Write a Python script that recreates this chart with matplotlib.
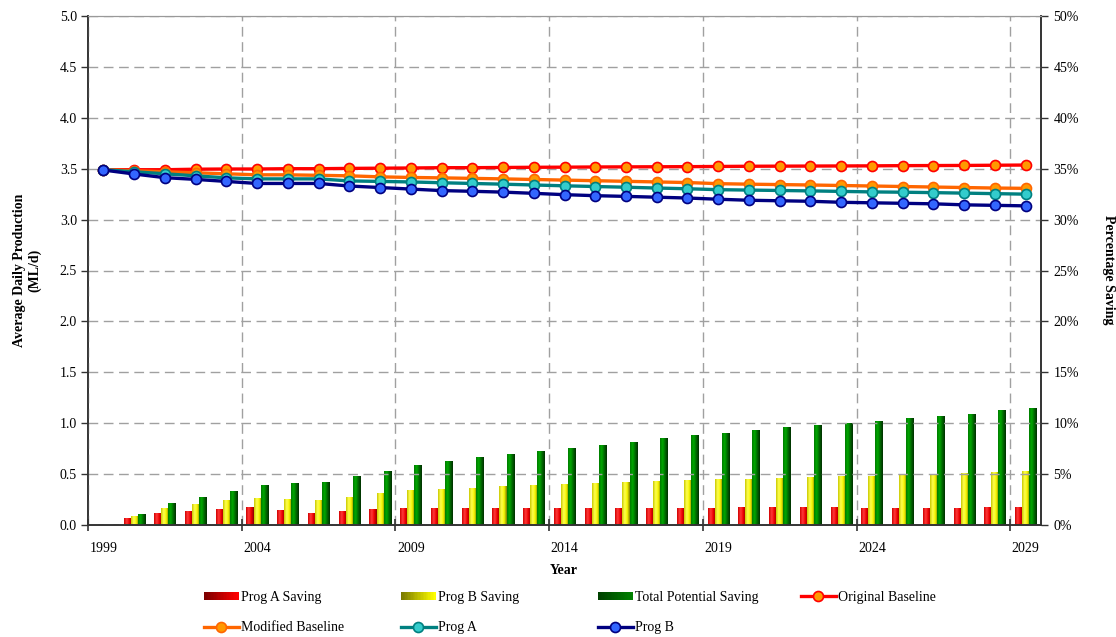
import numpy as np
import matplotlib
matplotlib.use("Agg")
import matplotlib.pyplot as plt
from matplotlib.colors import LinearSegmentedColormap
from matplotlib.patches import Rectangle
from matplotlib.legend_handler import HandlerBase
from matplotlib.ticker import FuncFormatter, MultipleLocator

plt.rcParams['font.family'] = ['Liberation Serif', 'DejaVu Serif']
plt.rcParams['font.size'] = 10

years = list(range(1999, 2030))

# production (ML/d)
orig_baseline = [3.49, 3.49, 3.49, 3.495, 3.497, 3.497, 3.50, 3.50, 3.503, 3.505, 3.507,
                 3.51, 3.51, 3.512, 3.514, 3.515, 3.517, 3.518, 3.519, 3.52, 3.522,
                 3.524, 3.525, 3.526, 3.527, 3.528, 3.53, 3.531, 3.532, 3.534, 3.536]
modified_baseline = [3.49, 3.48, 3.47, 3.46, 3.45, 3.44, 3.44, 3.435, 3.43, 3.42, 3.414,
                     3.41, 3.405, 3.40, 3.394, 3.388, 3.382, 3.376, 3.37, 3.364, 3.353,
                     3.348, 3.344, 3.34, 3.335, 3.33, 3.325, 3.32, 3.315, 3.31, 3.307]
prog_a = [3.49, 3.47, 3.45, 3.43, 3.41, 3.40, 3.40, 3.40, 3.38, 3.375, 3.37,
          3.362, 3.355, 3.348, 3.34, 3.332, 3.325, 3.318, 3.31, 3.303, 3.294,
          3.29, 3.286, 3.282, 3.277, 3.272, 3.269, 3.265, 3.26, 3.255, 3.25]
prog_b = [3.487, 3.448, 3.412, 3.395, 3.375, 3.355, 3.355, 3.355, 3.33, 3.315, 3.30,
          3.285, 3.278, 3.27, 3.258, 3.245, 3.235, 3.228, 3.22, 3.212, 3.20,
          3.19, 3.185, 3.18, 3.17, 3.165, 3.16, 3.155, 3.145, 3.14, 3.135]

# savings (%)
prog_a_saving = [0, 0.6, 1.1, 1.3, 1.5, 1.7, 1.4, 1.1, 1.3, 1.5, 1.6,
                 1.6, 1.6, 1.6, 1.6, 1.6, 1.6, 1.6, 1.6, 1.6, 1.6,
                 1.7, 1.7, 1.7, 1.7, 1.6, 1.6, 1.6, 1.6, 1.7, 1.7]
prog_b_saving = [0, 0.8, 1.6, 2.0, 2.4, 2.65, 2.55, 2.45, 2.75, 3.05, 3.35,
                 3.45, 3.55, 3.75, 3.85, 3.95, 4.05, 4.15, 4.25, 4.35, 4.45,
                 4.5, 4.6, 4.7, 4.8, 4.8, 4.9, 5.0, 5.1, 5.2, 5.3]
total_saving = [0, 1.0, 2.1, 2.75, 3.3, 3.9, 4.1, 4.2, 4.8, 5.3, 5.8,
                6.2, 6.6, 6.9, 7.2, 7.5, 7.85, 8.15, 8.45, 8.75, 8.95,
                9.25, 9.55, 9.75, 10.0, 10.2, 10.5, 10.7, 10.9, 11.2, 11.4]

red_cm = LinearSegmentedColormap.from_list("r", ["#d00000", "#ff3a3a", "#ee0000", "#8a0000"])
yel_cm = LinearSegmentedColormap.from_list("y", ["#c8c800", "#ffff50", "#f5f500", "#7a7a00"])
grn_cm = LinearSegmentedColormap.from_list("g", ["#007a00", "#00a800", "#006800", "#002e00"])
leg_cms = {
    "r": LinearSegmentedColormap.from_list("lr", ["#7a0000", "#ff0000"]),
    "y": LinearSegmentedColormap.from_list("ly", ["#7a7a00", "#ffff00"]),
    "g": LinearSegmentedColormap.from_list("lg", ["#004000", "#008000"]),
}


def shade_bars(ax, bars, cmap):
    # paint each bar with a horizontal gradient
    grad = np.linspace(0, 1, 64).reshape(1, -1)
    for b in bars:
        x, y = b.get_xy()
        w, h = b.get_width(), b.get_height()
        b.set_facecolor('none')
        b.set_edgecolor('none')
        if h <= 0:
            continue
        ax.imshow(grad, cmap=cmap, extent=(x, x + w, y, y + h), aspect='auto',
                  interpolation='bilinear', zorder=2)


class GradHandler(HandlerBase):
    def __init__(self, cmap):
        super().__init__()
        self.cmap = cmap

    def create_artists(self, legend, orig_handle, xdescent, ydescent, width, height, fontsize, trans):
        n = 24
        arts = []
        for i in range(n):
            r = Rectangle((-xdescent + width * i / n, -ydescent + height * 0.1), width / n * 1.1, height * 0.8,
                          facecolor=self.cmap(i / (n - 1)), edgecolor='none', transform=trans)
            arts.append(r)
        return arts


fig = plt.figure(figsize=(11.16, 6.37), dpi=100)
ax = fig.add_axes([88 / 1116, 1 - 525 / 637, (1041 - 88) / 1116, (525 - 16) / 637])
ax2 = ax.twinx()

x = np.arange(len(years))
bw = 0.23

# bars on the percentage axis
b1 = ax2.bar(x - bw, prog_a_saving, bw)
b2 = ax2.bar(x, prog_b_saving, bw)
b3 = ax2.bar(x + bw, total_saving, bw)
shade_bars(ax2, b1, red_cm)
shade_bars(ax2, b2, yel_cm)
shade_bars(ax2, b3, grn_cm)

# lines on the production axis
l1, = ax.plot(x, orig_baseline, color="#ff0000", lw=2.4, marker='o', ms=7.2, mfc="#ff9900", mec="#ff0000", mew=1.2, zorder=5)
l2, = ax.plot(x, modified_baseline, color="#ff6600", lw=2.4, marker='o', ms=7.2, mfc="#ff9900", mec="#ff6600", mew=1.2, zorder=5)
l3, = ax.plot(x, prog_a, color="#008080", lw=2.4, marker='o', ms=7.2, mfc="#33cccc", mec="#008080", mew=1.2, zorder=5)
l4, = ax.plot(x, prog_b, color="#000080", lw=2.4, marker='o', ms=7.2, mfc="#3366ff", mec="#000080", mew=1.2, zorder=5)
ax.set_zorder(ax2.get_zorder() + 1)
ax.patch.set_visible(False)

ax.set_xlim(-0.5, len(years) - 0.5)
ax.set_ylim(0, 5.0)
ax2.set_ylim(0, 50)
ax2.set_xlim(-0.5, len(years) - 0.5)

ax.yaxis.set_major_locator(MultipleLocator(0.5))
ax.yaxis.set_major_formatter(FuncFormatter(lambda v, p: f"{v:.1f}"))
ax2.yaxis.set_major_locator(MultipleLocator(5))
ax2.yaxis.set_major_formatter(FuncFormatter(lambda v, p: f"{v:.0f}%"))

# tick marks between categories, year labels on every fifth category
ax.set_xticks(np.arange(-0.5, len(years), 5))
ax.set_xticklabels([])
ax.set_xticks(x[::5], minor=True)
ax.set_xticklabels([str(y) for y in years[::5]], minor=True)
ax.tick_params(axis='x', which='minor', length=0, pad=12, labelsize=10)
ax.tick_params(axis='x', which='major', direction='inout', length=8, width=1.2, color='#333333')
ax.tick_params(axis='y', direction='out', length=5, width=1, pad=3, labelsize=10, color='#333333')
ax2.tick_params(axis='y', direction='out', length=5, width=1, pad=4, labelsize=10, color='#333333')

ax.grid(True, which='major', color='#a0a0a0', lw=1.0, ls=(0, (7, 4)))
ax.set_axisbelow(True)

for a in (ax, ax2):
    a.spines['top'].set_color('#999999')
    a.spines['left'].set_color('#333333')
    a.spines['right'].set_color('#333333')
    a.spines['bottom'].set_color('#333333')
    a.spines['left'].set_linewidth(1.2)
    a.spines['right'].set_linewidth(1.2)
    a.spines['bottom'].set_linewidth(1.2)

fig.text(27 / 1116, 1 - 270 / 637, "Average Daily Production\n(ML/d)", rotation=90, ha='center', va='center',
         fontweight='bold', fontsize=10, multialignment='center')
fig.text(1108 / 1116, 1 - 270 / 637, "Percentage Saving", rotation=270, ha='center', va='center',
         fontweight='bold', fontsize=10)
fig.text(564 / 1116, 1 - 571 / 637, "Year", ha='center', va='center', fontweight='bold', fontsize=10)

# legend, four columns laid out by hand
columns = [
    ([b1, l2], ["Prog A Saving", "Modified Baseline"], 204),
    ([b2, l3], ["Prog B Saving", "Prog A"], 401),
    ([b3, l4], ["Total Potential Saving", "Prog B"], 598),
    ([l1], ["Original Baseline"], 801),
]
hmap = {b1: GradHandler(leg_cms["r"]), b2: GradHandler(leg_cms["y"]), b3: GradHandler(leg_cms["g"])}
for handles, labels, px in columns:
    fig.legend(handles, labels, loc='upper left', bbox_to_anchor=(px / 1116, 1 - 591 / 637),
               frameon=False, borderpad=0, borderaxespad=0, handlelength=2.5, handletextpad=0.15,
               labelspacing=1.25, fontsize=10, handler_map=hmap)

fig.savefig("out.png", dpi=100)
